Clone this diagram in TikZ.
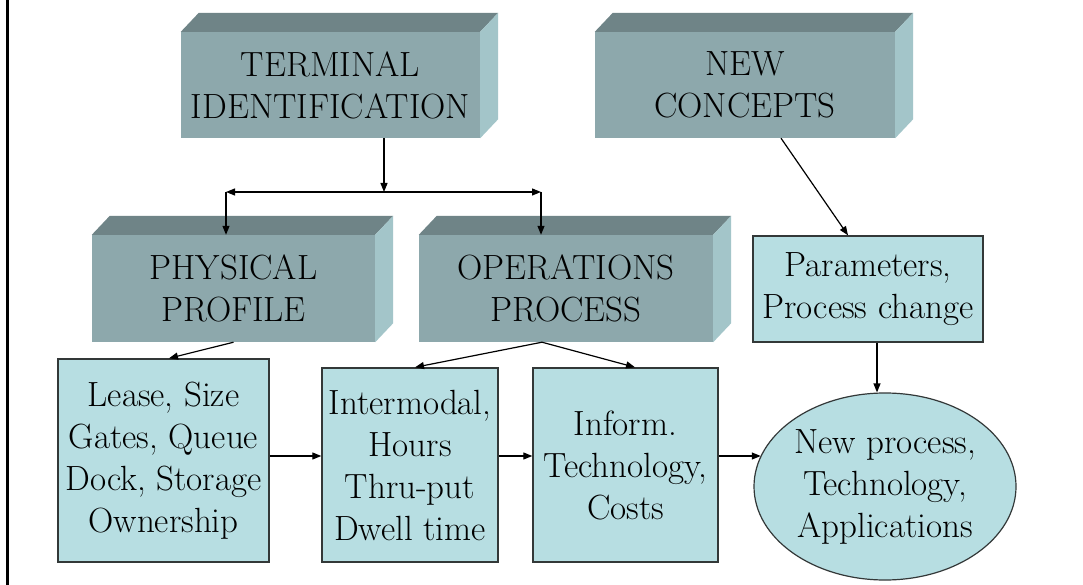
\documentclass[tikz,border=0pt]{standalone}
\usetikzlibrary{arrows.meta,calc,shapes.geometric}
\definecolor{frontc}{HTML}{8DA8AC}
\definecolor{topc}{HTML}{6F8487}
\definecolor{sidec}{HTML}{A3C5C9}
\definecolor{lightc}{HTML}{B7DEE2}
\definecolor{edgec}{HTML}{333838}
\begin{document}
\begin{tikzpicture}[x=1pt,y=-1pt,
  txt/.style={font=\fontsize{35}{42}\selectfont, text=black, align=center},
  blockbox/.style={txt, fill=frontc, inner sep=0pt},
  flatbox/.style={txt, fill=lightc, draw=edgec, line width=1.4pt, inner sep=0pt},
  ovalbox/.style={txt, ellipse, fill=lightc, draw=edgec, line width=1.2pt, inner sep=0pt},
  conn/.style={line width=1.2pt, -{Triangle[length=9pt,width=7pt]}},
  topface/.style={fill=topc},
  sideface/.style={fill=sidec}]
\useasboundingbox (0,0) rectangle (1083,585);
\fill[white] (0,0) rectangle (1083,585);
\draw[line width=2.5pt] (7.5,0) -- (7.5,585);

% 3D blocks
\node[blockbox, minimum width=299pt, minimum height=106pt] (term) at (330.5,85) {TERMINAL\\IDENTIFICATION};
\node[blockbox, minimum width=300pt, minimum height=106pt] (nc) at (745,85) {NEW\\CONCEPTS};
\node[blockbox, minimum width=283pt, minimum height=107pt] (phys) at (233.5,288.5) {PHYSICAL\\PROFILE};
\node[blockbox, minimum width=294pt, minimum height=107pt] (ops) at (566,288.5) {OPERATIONS\\PROCESS};
\foreach \n in {term,nc,phys,ops}{
  \fill[topface] (\n.north west) -- ++(18,-19) -- ($(\n.north east)+(18,-19)$) -- (\n.north east) -- cycle;
  \fill[sideface] (\n.north east) -- ++(18,-19) -- ($(\n.south east)+(18,-19)$) -- (\n.south east) -- cycle;
}

% flat boxes
\node[flatbox, minimum width=230pt, minimum height=106pt] (par) at (868,289) {Parameters,\\Process change};
\node[flatbox, minimum width=211pt, minimum height=203pt] (lease) at (163.5,460.5) {Lease, Size\\Gates, Queue\\Dock, Storage\\Ownership};
\node[flatbox, minimum width=176pt, minimum height=194pt] (inter) at (410,465) {Intermodal,\\Hours\\Thru-put\\Dwell time};
\node[flatbox, minimum width=185pt, minimum height=194pt] (inform) at (625.5,465) {Inform.\\Technology,\\Costs};
\node[ovalbox, minimum width=262pt, minimum height=187pt] (ell) at (885,486.5) {New process,\\Technology,\\Applications};

% connectors
\coordinate (j) at (384,192);
\coordinate (jl) at (226,192);
\coordinate (jr) at (541,192);
\draw[conn] (term.south -| j) -- (j);
\draw[line width=1.2pt, {Triangle[length=9pt,width=7pt]}-{Triangle[length=9pt,width=7pt]}] (jl) -- (jr);
\draw[conn] (jl) -- (jl |- phys.north);
\draw[conn] (jr) -- (jr |- ops.north);
\draw[conn] ([xshift=36pt]nc.south) -- ([xshift=-20pt]par.north);
\draw[conn] (phys.south) -- ([xshift=5.5pt]lease.north);
\draw[conn] ([xshift=-24pt]ops.south) -- ([xshift=5pt]inter.north);
\draw[conn] ([xshift=-24pt]ops.south) -- ([xshift=9.5pt]inform.north);
\draw[conn] ([yshift=4.5pt]lease.east) -- ([yshift=4.5pt]lease.east -| inter.west);
\draw[conn] ([yshift=9pt]inter.east) -- ([yshift=9pt]inter.east -| inform.west);
\draw[conn] ([yshift=9pt]inform.east) -- ([yshift=9pt]inform.east -| ell.166);
\draw[conn] ([xshift=9pt]par.south) -- ([xshift=9pt]par.south |- ell.north);
\end{tikzpicture}
\end{document}
